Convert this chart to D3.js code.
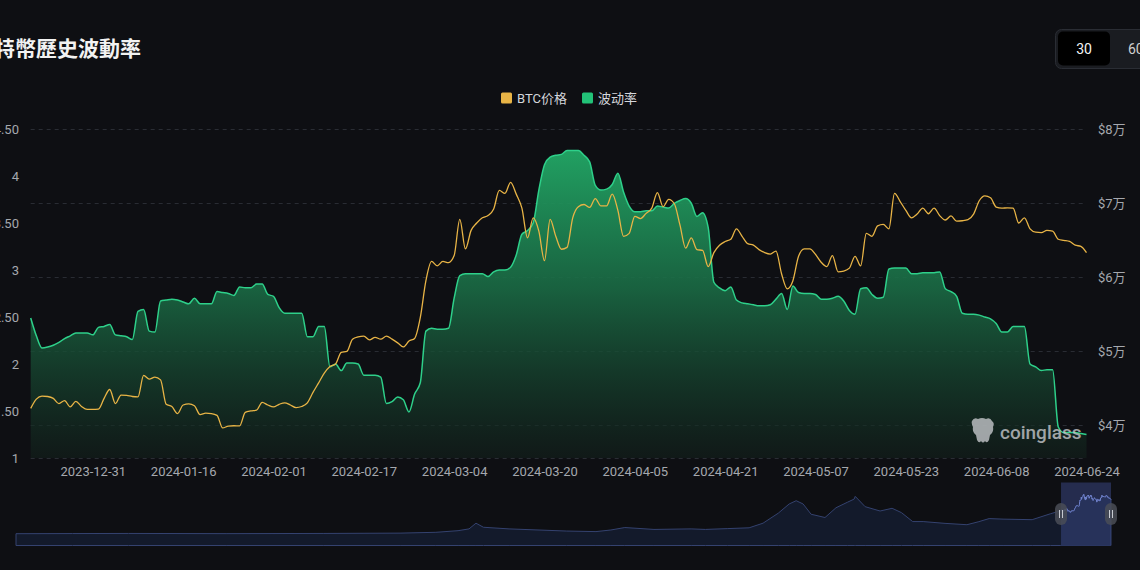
<!DOCTYPE html>
<html>
<head>
<meta charset="utf-8">
<script src="https://cdn.jsdelivr.net/npm/d3@7"></script>
<style>
  html, body { margin: 0; padding: 0; background: #0e0f13; overflow: hidden; }
  text { font-family: Roboto, "Noto Sans CJK SC", sans-serif; }
</style>
</head>
<body>
<div class="vol-chart"></div>
<script>
// daily data, 2023-12-20 .. 2024-06-24
const startDay = "2023-12-20"

const volatility = [
  2.49, 2.30, 2.17, 2.18, 2.20, 2.23, 2.27, 2.30, 2.33, 2.33,
  2.33, 2.31, 2.39, 2.40, 2.42, 2.31, 2.30, 2.29, 2.26, 2.56,
  2.58, 2.35, 2.34, 2.67, 2.68, 2.69, 2.68, 2.66, 2.64, 2.70,
  2.64, 2.64, 2.64, 2.77, 2.76, 2.75, 2.73, 2.82, 2.81, 2.81,
  2.85, 2.85, 2.74, 2.72, 2.60, 2.54, 2.54, 2.54, 2.54, 2.29,
  2.29, 2.40, 2.40, 1.97, 2.00, 1.93, 2.01, 2.01, 2.00, 1.88,
  1.88, 1.88, 1.86, 1.58, 1.60, 1.65, 1.62, 1.49, 1.68, 1.80,
  2.35, 2.38, 2.37, 2.37, 2.38, 2.70, 2.94, 2.96, 2.96, 2.96,
  2.96, 2.93, 2.98, 3.00, 3.00, 3.03, 3.16, 3.38, 3.42, 3.50,
  3.85, 4.12, 4.20, 4.22, 4.23, 4.27, 4.27, 4.27, 4.22, 4.15,
  3.90, 3.85, 3.86, 3.91, 4.03, 3.83, 3.68, 3.62, 3.62, 3.63,
  3.63, 3.68, 3.67, 3.66, 3.71, 3.74, 3.76, 3.71, 3.57, 3.61,
  3.45, 2.87, 2.81, 2.78, 2.82, 2.68, 2.65, 2.64, 2.63, 2.62,
  2.62, 2.63, 2.69, 2.75, 2.58, 2.83, 2.76, 2.75, 2.75, 2.74,
  2.69, 2.69, 2.70, 2.72, 2.67, 2.57, 2.53, 2.80, 2.81, 2.74,
  2.70, 2.71, 3.01, 3.02, 3.02, 3.02, 2.96, 2.96, 2.97, 2.97,
  2.97, 2.98, 2.80, 2.77, 2.72, 2.54, 2.53, 2.53, 2.52, 2.50,
  2.48, 2.43, 2.34, 2.34, 2.40, 2.40, 2.40, 2.00, 1.97, 1.93,
  1.94, 1.94, 1.33, 1.27, 1.27, 1.27, 1.26, 1.25
]

const btcPrice = [
  42250, 43500, 43900, 43850, 43600, 42900, 43300, 42450, 43200, 42500,
  42100, 42100, 42150, 43600, 44800, 42900, 44050, 44000, 43850, 43800,
  46700, 46200, 46480, 46100, 42800, 42500, 41550, 42700, 42850, 42600,
  41400, 41600, 41550, 41300, 39600, 39850, 39900, 39870, 41700, 41900,
  42000, 43050, 42700, 42450, 42800, 43000, 42700, 42350, 42500, 43000,
  44400, 45700, 47000, 47900, 48250, 49800, 49950, 51600, 51900, 52000,
  51500, 51850, 51600, 52000, 51600, 51100, 50550, 51350, 51700, 54500,
  59500, 62100, 61500, 62100, 61950, 62900, 67800, 63800, 66300, 67300,
  68000, 68300, 69200, 71700, 71300, 72800, 71200, 69300, 65300, 68000,
  66200, 62200, 67800, 65500, 63750, 64000, 68000, 69500, 69800, 69400,
  70600, 69600, 69600, 71200, 69000, 65500, 65900, 68200, 67900, 68600,
  69300, 71400, 69500, 70500, 69900, 67000, 63900, 65300, 63700, 63600,
  61400, 63300, 64300, 64800, 65100, 66500, 65500, 64500, 64300, 63700,
  63300, 63100, 63500, 60400, 58400, 59500, 62800, 63800, 63800, 63050,
  62000, 61400, 62900, 60700, 60800, 61200, 62800, 61500, 65900, 65500,
  66900, 67100, 66500, 71300, 70200, 69000, 68000, 68500, 69300, 68550,
  69300, 68300, 67700, 68250, 67550, 67600, 67750, 68500, 70300, 70950,
  70700, 69450, 69300, 69350, 69300, 67300, 68000, 66500, 66050, 66000,
  66300, 66200, 65100, 64950, 64800, 64300, 64150, 63300
]

// long price history shown in the slider (before the zoomed window)
const historyDates = [
  "2013-04-06", "2013-11-04", "2014-06-01", "2015-06-01", "2016-06-01", "2017-03-13",
  "2017-07-25", "2017-10-16", "2017-11-26", "2017-12-22", "2018-01-19", "2018-04-25",
  "2018-11-27", "2019-03-16", "2019-05-11", "2019-07-02", "2019-10-19", "2020-03-06",
  "2020-04-28", "2020-07-19", "2020-10-09", "2020-11-30", "2021-01-26", "2021-03-08",
  "2021-04-03", "2021-04-29", "2021-05-29", "2021-07-20", "2021-08-30", "2021-10-11",
  "2021-11-06", "2021-11-10", "2021-12-17", "2022-02-11", "2022-03-28", "2022-05-02",
  "2022-06-13", "2022-07-22", "2022-10-12", "2023-01-02", "2023-02-13", "2023-03-26",
  "2023-05-17", "2023-09-03", "2023-11-11", "2023-12-19"
]
const historyPrice = [
  150, 400, 600, 250, 600, 1200,
  2700, 5700, 9000, 19500, 12000, 9000,
  5000, 4000, 7000, 11500, 8000, 9000,
  8000, 9500, 11000, 19500, 38000, 55000,
  61000, 55000, 36000, 30000, 48000, 58000,
  64000, 69000, 50000, 42000, 47000, 39000,
  22500, 22500, 19200, 16700, 22000, 28000,
  27000, 26000, 37000, 42500
]

const xTickLabels = ["2023-12-31", "2024-01-16", "2024-02-01", "2024-02-17", "2024-03-04", "2024-03-20",
  "2024-04-05", "2024-04-21", "2024-05-07", "2024-05-23", "2024-06-08", "2024-06-24"]
const volTicks = [1, 1.5, 2, 2.5, 3, 3.5, 4, 4.5]
const priceTicks = [40000, 50000, 60000, 70000, 80000]
const labels = ["BTC价格", "波动率"]
const colors = ["#e8b446", "#22c278"]

const parse = d3.utcParse("%Y-%m-%d")
const days = volatility.map((v, i) => d3.utcDay.offset(parse(startDay), i))
const data = days.map((d, i) => ({date: d, vol: volatility[i], price: btcPrice[i]}))

const width = 1140, height = 570
const plot = {left: 30.7, right: 1086.5, top: 129, bottom: 458}

const svg = d3.select(".vol-chart")
  .append("svg")
    .attr("width", width)
    .attr("height", height)

svg.append("rect").attr("width", width).attr("height", height).attr("fill", "#0e0f13")

// title (cut at the left edge like the screenshot)
svg.append("text")
  .attr("x", -27).attr("y", 56)
  .attr("fill", "#f2f2f2")
  .style("font-family", "'Noto Sans CJK TC', sans-serif")
  .style("font-size", "21px")
  .style("font-weight", "700")
  .text("比特幣歷史波動率")

// period buttons
svg.append("rect").attr("x", 1055.5).attr("y", 29.5).attr("width", 110).attr("height", 39)
  .attr("rx", 6).attr("fill", "#1a1c21").attr("stroke", "#2a2d34")
svg.append("rect").attr("x", 1058).attr("y", 31.5).attr("width", 52).attr("height", 34)
  .attr("rx", 5).attr("fill", "#000")
svg.append("text").attr("x", 1084).attr("y", 54).attr("text-anchor", "middle")
  .attr("fill", "#f5f5f5").style("font-size", "14px").text("30")
svg.append("text").attr("x", 1128).attr("y", 54)
  .attr("fill", "#d0d0d0").style("font-size", "14px").text("60")

// scales
const x = d3.scaleUtc()
  .domain(d3.extent(days))
  .range([plot.left, plot.right])

const yVol = d3.scaleLinear()
  .domain([1, 4.5])
  .range([plot.bottom, plot.top])

const yPrice = d3.scaleLinear()
  .domain([35540, 80000])
  .range([plot.bottom, plot.top])

// grid lines from the price axis
svg.append("g")
  .selectAll("line")
  .data(priceTicks)
  .join("line")
    .attr("x1", plot.left).attr("x2", plot.right)
    .attr("y1", d => yPrice(d) + 0.5).attr("y2", d => yPrice(d) + 0.5)
    .attr("stroke", "#2a2d34")
    .attr("stroke-dasharray", "4,4")
svg.append("line")
  .attr("x1", plot.left).attr("x2", plot.right)
  .attr("y1", plot.bottom + 0.5).attr("y2", plot.bottom + 0.5)
  .attr("stroke", "#2a2d34")
  .attr("stroke-dasharray", "4,4")

// left axis
svg.append("g")
  .attr("transform", `translate(19,0)`)
  .call(d3.axisLeft(yVol).tickValues(volTicks).tickSize(0).tickPadding(0)
    .tickFormat(d => Number.isInteger(d) ? d : d.toFixed(2)))
  .call(g => g.select(".domain").remove())
  .call(g => g.selectAll(".tick text").attr("fill", "#a5a8ae").style("font-size", "13px"))

// right axis
svg.append("g")
  .attr("transform", `translate(1098,0)`)
  .call(d3.axisRight(yPrice).tickValues(priceTicks).tickSize(0).tickPadding(0)
    .tickFormat(d => `$${d / 10000}万`))
  .call(g => g.select(".domain").remove())
  .call(g => g.selectAll(".tick text").attr("fill", "#a5a8ae").style("font-size", "13px"))

// bottom axis
svg.append("g")
  .attr("transform", `translate(0,${plot.bottom})`)
  .call(d3.axisBottom(x).tickValues(xTickLabels.map(parse)).tickSize(0).tickPadding(9)
    .tickFormat(d3.utcFormat("%Y-%m-%d")))
  .call(g => g.select(".domain").remove())
  .call(g => g.selectAll(".tick text").attr("fill", "#a5a8ae").style("font-size", "13px"))

// gradient for the volatility area
const defs = svg.append("defs")
const grad = defs.append("linearGradient")
  .attr("id", "volFill")
  .attr("x1", 0).attr("y1", 0).attr("x2", 0).attr("y2", 1)
grad.append("stop").attr("offset", "0%").attr("stop-color", "#22a866").attr("stop-opacity", 0.95)
grad.append("stop").attr("offset", "45%").attr("stop-color", "#1a6a44").attr("stop-opacity", 0.9)
grad.append("stop").attr("offset", "100%").attr("stop-color", "#12201b").attr("stop-opacity", 0.6)

const curve = d3.curveMonotoneX

svg.append("path")
  .datum(data)
  .attr("fill", "url(#volFill)")
  .attr("d", d3.area().curve(curve)
    .x(d => x(d.date))
    .y0(plot.bottom)
    .y1(d => yVol(d.vol)))

svg.append("path")
  .datum(data)
  .attr("fill", "none")
  .attr("stroke", "#2ed08a")
  .attr("stroke-width", 1.5)
  .attr("d", d3.line().curve(curve)
    .x(d => x(d.date))
    .y(d => yVol(d.vol)))

svg.append("path")
  .datum(data)
  .attr("fill", "none")
  .attr("stroke", colors[0])
  .attr("stroke-width", 1.3)
  .attr("d", d3.line().curve(curve)
    .x(d => x(d.date))
    .y(d => yPrice(d.price)))

// watermark
const mark = svg.append("g").attr("opacity", 0.8)
mark.append("path")
  .attr("d", "M972,421 q2,-4 6,-2 q4,-2 8,0 q4,-2 6,2 q3,2 1,6 q1,5 -3,8 l-1,5 q-2,4 -4,1 q-2,3 -4,0 q-2,3 -4,-1 l-1,-5 q-4,-3 -3,-8 q-2,-4 -1,-6z")
  .attr("fill", "#c4c6ca")
mark.append("text")
  .attr("x", 1000).attr("y", 439)
  .attr("fill", "#c4c6ca")
  .style("font-size", "19px")
  .style("font-weight", "500")
  .text("coinglass")

// legend
const legend = svg.append("g")
  .selectAll("g")
  .data(labels)
  .join("g")
    .attr("transform", (d, i) => `translate(${i == 0 ? 501 : 582},0)`)
legend.append("rect")
  .attr("y", 92.5).attr("width", 11).attr("height", 11).attr("rx", 1.5)
  .attr("fill", (d, i) => colors[i])
legend.append("text")
  .attr("x", 16).attr("y", 102.5)
  .attr("fill", "#d4d6db")
  .style("font-size", "13px")
  .text(d => d)

// slider (data zoom) at the bottom
const nav = {left: 16, right: 1111, top: 482.5, bottom: 545.5}
const navData = historyDates.map((d, i) => ({date: parse(d), price: historyPrice[i]}))
  .concat(data.map(d => ({date: d.date, price: d.price})))
const navExtent = d3.extent(navData, d => d.price)
const pad = (navExtent[1] - navExtent[0]) * 0.3
const xNav = d3.scaleUtc()
  .domain(d3.extent(navData, d => d.date))
  .range([nav.left, nav.right])
const yNav = d3.scaleLinear()
  .domain([navExtent[0] - pad, navExtent[1] + pad])
  .range([nav.bottom, nav.top])

svg.append("path")
  .datum(navData)
  .attr("fill", "#131a2b")
  .attr("stroke", "#34426f")
  .attr("stroke-width", 1)
  .attr("d", d3.area()
    .x(d => xNav(d.date))
    .y0(nav.bottom)
    .y1(d => yNav(d.price)))

const winX0 = xNav(days[0]), winX1 = xNav(days[days.length - 1])
svg.append("rect")
  .attr("x", winX0).attr("y", nav.top)
  .attr("width", winX1 - winX0).attr("height", nav.bottom - nav.top)
  .attr("fill", "#3b4a8a").attr("opacity", 0.5)
svg.append("path")
  .datum(data)
  .attr("fill", "none")
  .attr("stroke", "#7183cc")
  .attr("stroke-width", 1)
  .attr("d", d3.line()
    .x(d => xNav(d.date))
    .y(d => yNav(d.price)))

const handles = svg.append("g")
  .selectAll("g")
  .data([winX0, winX1])
  .join("g")
    .attr("transform", d => `translate(${d},514)`)
handles.append("rect")
  .attr("x", -6).attr("y", -11).attr("width", 12).attr("height", 22).attr("rx", 6)
  .attr("fill", "#4a4d57").attr("opacity", 0.85)
handles.append("path")
  .attr("d", "M-1.5,-4V4M1.5,-4V4")
  .attr("stroke", "#c9ccd3").attr("stroke-width", 1)
</script>
</body>
</html>
